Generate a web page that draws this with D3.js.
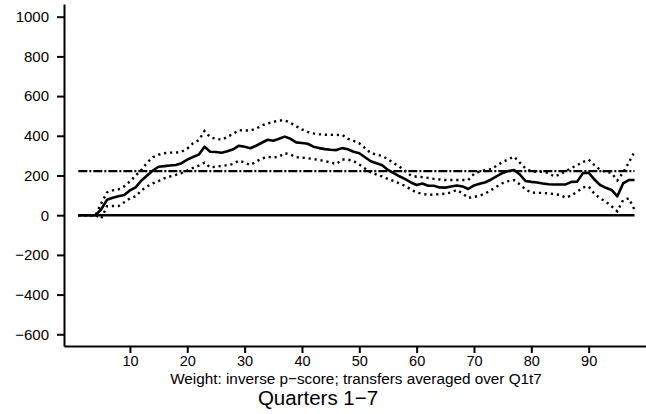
<!DOCTYPE html>
<html>
<head>
<meta charset="utf-8">
<script src="https://cdn.jsdelivr.net/npm/d3@7"></script>
<style>
  body { margin: 0; background: #fff; }
  text { font-family: "Liberation Sans", Arial, sans-serif; fill: #000; }
</style>
</head>
<body>
<div id="chart"></div>
<script>
// data, x = 1..98
var xs = d3.range(1, 99);
var estimate = [0, 0, 0, 0, 30, 78, 88, 95, 102, 125, 140, 175, 200, 225, 244, 247, 250, 253, 262, 280,
  293, 305, 345, 320, 318, 315, 322, 332, 350, 345, 337, 350, 365, 380, 375, 385, 396, 385, 367, 364,
  360, 345, 338, 333, 330, 328, 338, 332, 320, 312, 292, 272, 262, 252, 228, 212, 196, 182, 165, 152,
  160, 148, 148, 140, 139, 145, 150, 145, 132, 150, 158, 166, 180, 197, 213, 222, 228, 205, 172, 168,
  165, 160, 156, 155, 155, 155, 168, 169, 212, 214, 180, 152, 138, 127, 95, 160, 177, 177];
var upper = [0, 0, 0, 0, 60, 115, 125, 130, 145, 170, 200, 228, 265, 292, 305, 312, 315, 315, 320, 335,
  362, 378, 424, 393, 385, 380, 395, 410, 428, 427, 426, 436, 452, 462, 470, 477, 478, 465, 448, 432,
  420, 412, 408, 405, 405, 404, 405, 385, 375, 362, 338, 312, 306, 298, 282, 262, 245, 222, 200, 194,
  192, 188, 183, 180, 177, 177, 177, 177, 177, 208, 220, 228, 232, 250, 268, 282, 295, 265, 235, 220,
  219, 219, 212, 195, 205, 222, 238, 252, 268, 280, 252, 228, 218, 212, 175, 215, 265, 320];
var lower = [0, 0, 0, 0, -16, 45, 46, 46, 65, 85, 95, 125, 145, 160, 172, 186, 195, 203, 212, 225,
  238, 250, 265, 240, 245, 248, 252, 258, 275, 265, 253, 270, 285, 295, 290, 295, 313, 305, 292, 290,
  287, 283, 278, 273, 265, 258, 281, 280, 273, 255, 235, 215, 205, 195, 182, 172, 160, 147, 130, 114,
  108, 103, 104, 106, 108, 115, 127, 110, 87, 92, 98, 110, 127, 145, 162, 172, 177, 155, 130, 114,
  113, 112, 110, 106, 102, 88, 100, 118, 140, 145, 108, 85, 68, 45, 20, 76, 85, 28];
var refLevel = 222;
var xTicks = [10, 20, 30, 40, 50, 60, 70, 80, 90];
var yTicks = [-600, -400, -200, 0, 200, 400, 600, 800, 1000];
var note = "Weight: inverse p\u2212score; transfers averaged over Q1t7";
var title = "Quarters 1\u22127";

var svgWidth = 646, svgHeight = 414;
var svg = d3.select("#chart").append("svg")
  .attr("width", svgWidth)
  .attr("height", svgHeight);

var x = d3.scaleLinear().domain([-1.5, 100]).range([64, 646]);
var y = d3.scaleLinear().domain([-659, 1064]).range([346, 4]);

var line = d3.line().x(d => x(d[0])).y(d => y(d[1]));
function pairs(vals) { return xs.map((k, i) => [k, vals[i]]); }

// zero line
svg.append("path")
  .attr("d", line([[1, 0], [98, 0]]))
  .attr("fill", "none").attr("stroke", "#000").attr("stroke-width", 2.6);

// reference level
svg.append("path")
  .attr("d", line([[1, refLevel], [98, refLevel]]))
  .attr("fill", "none").attr("stroke", "#000").attr("stroke-width", 2.2)
  .attr("stroke-dasharray", "9,2,2,2");

// confidence bands
[upper, lower].forEach(s => {
  svg.append("path")
    .attr("d", line(pairs(s)))
    .attr("fill", "none").attr("stroke", "#000").attr("stroke-width", 2.4)
    .attr("stroke-dasharray", "2.2,3.8");
});

// estimate
svg.append("path")
  .attr("d", line(pairs(estimate)))
  .attr("fill", "none").attr("stroke", "#000").attr("stroke-width", 2.6)
  .attr("stroke-linejoin", "round");

// axes
var yAxis = svg.append("g")
  .attr("transform", "translate(64,0)")
  .call(d3.axisLeft(y).tickValues(yTicks).tickFormat(d3.format("d"))
    .tickSize(7).tickPadding(8).tickSizeOuter(0));
var xAxis = svg.append("g")
  .attr("transform", "translate(0,346)")
  .call(d3.axisBottom(x).tickValues(xTicks).tickFormat(d3.format("d"))
    .tickSize(7).tickPadding(3).tickSizeOuter(0));
[yAxis, xAxis].forEach(g => {
  g.selectAll("path, line").attr("stroke", "#000").attr("stroke-width", 2);
  g.selectAll("text").attr("font-family", "Liberation Sans, Arial, sans-serif").attr("fill", "#000");
});
yAxis.selectAll("text").attr("font-size", "15px");
xAxis.selectAll("text").attr("font-size", "14.5px");

svg.append("text")
  .attr("x", 356).attr("y", 383.5)
  .attr("text-anchor", "middle")
  .attr("font-size", "15.3px")
  .text(note);
svg.append("text")
  .attr("x", 318).attr("y", 405)
  .attr("text-anchor", "middle")
  .attr("font-size", "20.5px")
  .text(title);
</script>
</body>
</html>
